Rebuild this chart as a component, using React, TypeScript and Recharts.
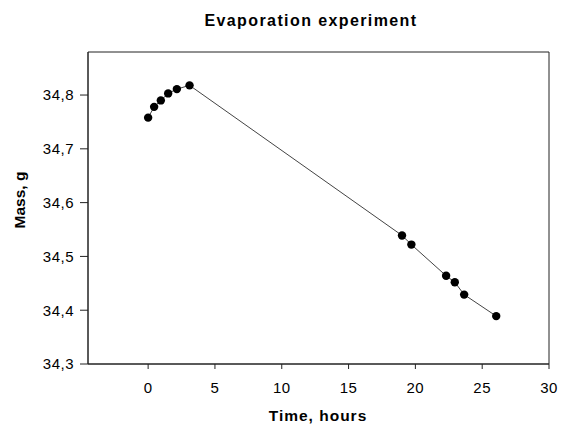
import {
  Customized,
  ReferenceArea,
  Scatter,
  ScatterChart,
  XAxis,
  YAxis,
} from "recharts"

const hours = [0, 0.45, 0.95, 1.5, 2.15, 3.1, 19.0, 19.7, 22.3, 22.95, 23.65, 26.05]
const mass = [
  34.758, 34.778, 34.79, 34.803, 34.811, 34.818, 34.539, 34.522, 34.464, 34.452,
  34.429, 34.389,
]
const xTicks = [0, 5, 10, 15, 20, 25, 30]
const yTicks = [34.3, 34.4, 34.5, 34.6, 34.7, 34.8]

const points = hours.map((h, i) => ({ time: h, mass: mass[i] }))

const font = "Arial, 'Liberation Sans', sans-serif"

const Dot = (props: any) => {
  const { cx, cy } = props
  return <circle cx={cx} cy={cy} r={4.2} fill="#000" />
}

const Texts = () => (
  <g fontFamily={font} fontWeight="bold" fill="#000">
    <text x={311} y={26} fontSize={16} letterSpacing={1.4} textAnchor="middle">
      Evaporation experiment
    </text>
    <text x={318} y={421} fontSize={15.5} letterSpacing={1} textAnchor="middle">
      Time, hours
    </text>
    <text
      x={25}
      y={200}
      fontSize={15.5}
      textAnchor="middle"
      transform="rotate(-90 25 200)"
    >
      Mass, g
    </text>
  </g>
)

const fmt = (v: number) => v.toFixed(1).replace(".", ",")

export default function App() {
  return (
    <div style={{ position: "absolute", left: 0, top: 0, background: "#fff" }}>
      <ScatterChart
        width={561}
        height={426}
        margin={{ top: 52, right: 12, bottom: 0, left: 0 }}
      >
        <XAxis
          type="number"
          dataKey="time"
          domain={[-4.5, 30]}
          ticks={xTicks}
          allowDataOverflow
          height={62}
          tickSize={5}
          tickMargin={13}
          stroke="#222"
          tick={{ fill: "#000", fontSize: 15, fontFamily: font, letterSpacing: 0.5 }}
        />
        <YAxis
          type="number"
          dataKey="mass"
          domain={[34.3, 34.88]}
          ticks={yTicks}
          allowDataOverflow
          width={88}
          tickSize={8}
          tickMargin={6}
          tickFormatter={fmt}
          stroke="#222"
          tick={{ fill: "#000", fontSize: 15, fontFamily: font, letterSpacing: 0.5 }}
        />
        <ReferenceArea
          x1={-4.5}
          x2={30}
          y1={34.3}
          y2={34.88}
          fill="none"
          stroke="#222"
          strokeWidth={1}
          ifOverflow="extendDomain"
        />
        <Scatter
          data={points}
          line={{ stroke: "#444", strokeWidth: 1 }}
          lineType="joint"
          shape={<Dot />}
          isAnimationActive={false}
        />
        <Customized component={Texts} />
      </ScatterChart>
    </div>
  )
}
